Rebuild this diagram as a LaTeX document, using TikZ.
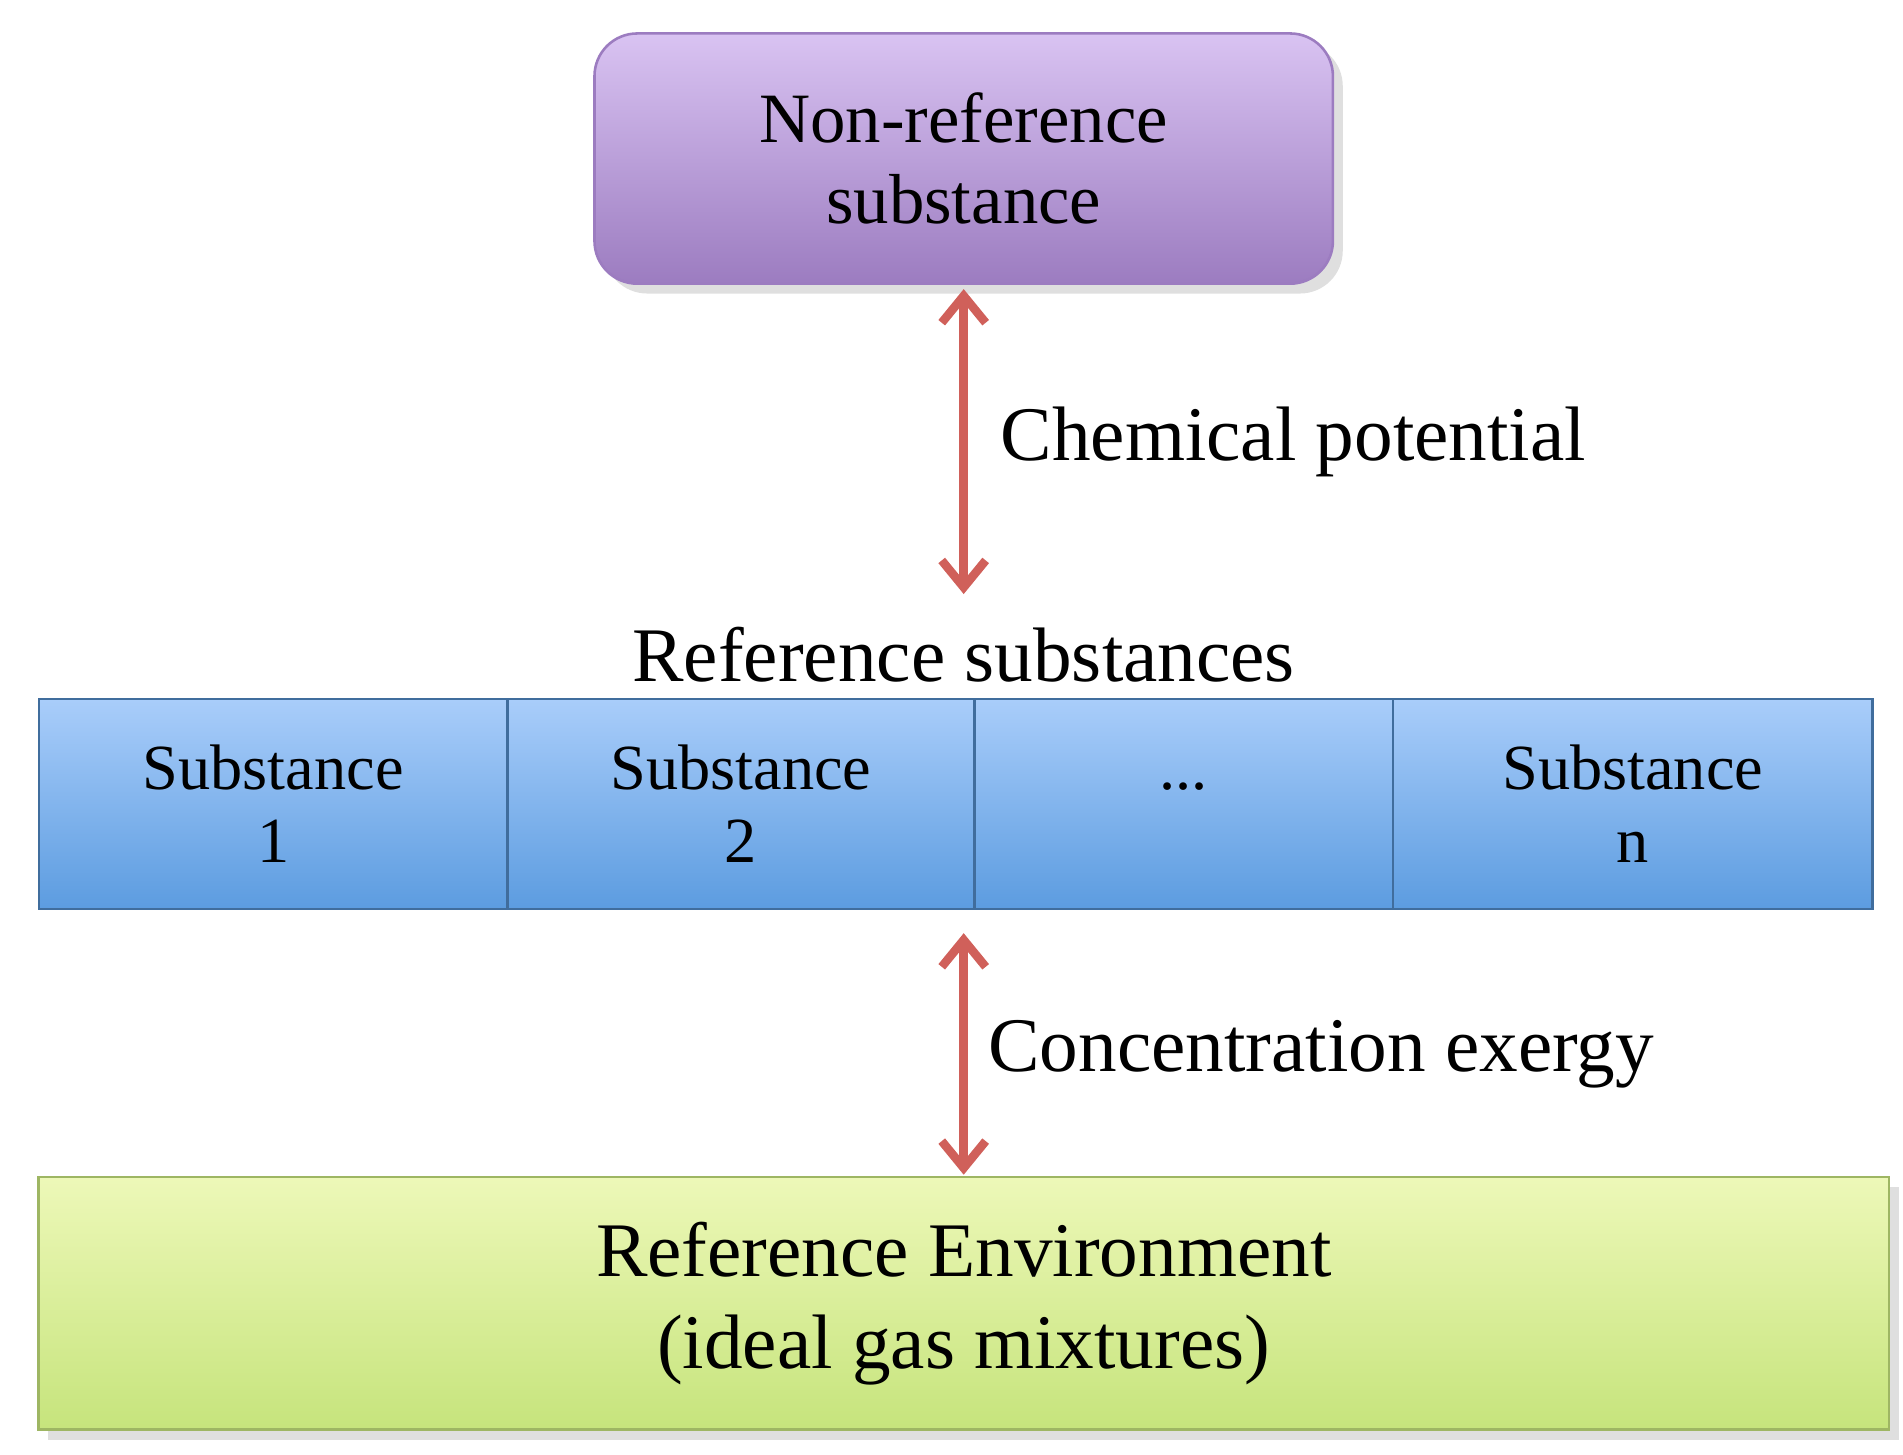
\documentclass[tikz,border=0pt]{standalone}
\usepackage{fontspec}
\setmainfont{Liberation Serif}
\usetikzlibrary{shadows,arrows.meta}
\definecolor{arrowred}{HTML}{D0605A}
\definecolor{purpletop}{HTML}{D9C3F2}
\definecolor{purplebot}{HTML}{9C7CC0}
\definecolor{bluetop}{HTML}{A9CDFA}
\definecolor{bluebot}{HTML}{5C9CE0}
\definecolor{greentop}{HTML}{EDF8B8}
\definecolor{greenbot}{HTML}{C6E47C}
\begin{document}
\begin{tikzpicture}[x=0.01cm,y=-0.01cm,
    box/.style ={draw, line width=0.6pt, align=center, inner sep=0pt, drop shadow={opacity=0.25}},
    cell/.style ={draw=bluebot!70!black, line width=0.6pt, align=center, inner sep=0pt,
      top color=bluetop, bottom color=bluebot,
      minimum height=1.72cm, font=\fontsize{15}{17}\selectfont},
    link/.style ={draw=arrowred, line width=2pt, {Straight Barb[length=2.2mm,width=3.6mm]}-{Straight Barb[length=2.2mm,width=3.6mm]}}]
  \useasboundingbox (0,0) rectangle (1560,1192);
  \node[box, rounded corners=0.35cm, draw=purplebot, top color=purpletop, bottom color=purplebot,
    minimum width=6.05cm, minimum height=2.05cm, font=\fontsize{16.5}{19}\selectfont] (nonref) at (790,130) {Non-reference\\substance};
  \node[font=\fontsize{18}{22}\selectfont] (refs) at (790,537) {Reference substances};
  \node[cell, minimum width=3.84cm] (s1) at (224,659) {Substance\\1};
  \node[cell, minimum width=3.83cm] (s2) at (607.5,659) {Substance\\2};
  \node[cell, minimum width=3.43cm] (sdots) at (970.5,659) {\raisebox{1.2ex}{...}};
  \node[cell, minimum width=3.93cm] (sn) at (1338.5,659) {Substance\\n};
  \node[box, draw=greenbot!80!black, top color=greentop, bottom color=greenbot,
    minimum width=15.16cm, minimum height=2.07cm, font=\fontsize{18}{21.5}\selectfont] (env) at (790,1068.5) {Reference Environment\\(ideal gas mixtures)};
  \coordinate (top1) at (790,237);
  \coordinate (bot1) at (790,487);
  \coordinate (top2) at (790,765);
  \coordinate (bot2) at (790,963);
  \draw[link] (top1) -- (bot1) node[midway, right=0.15cm, text=black, font=\fontsize{18}{22}\selectfont] {Chemical potential};
  \draw[link] (top2) -- (bot2) node[midway, right=0.05cm, text=black, font=\fontsize{18}{22}\selectfont] {Concentration exergy};
\end{tikzpicture}
\end{document}
